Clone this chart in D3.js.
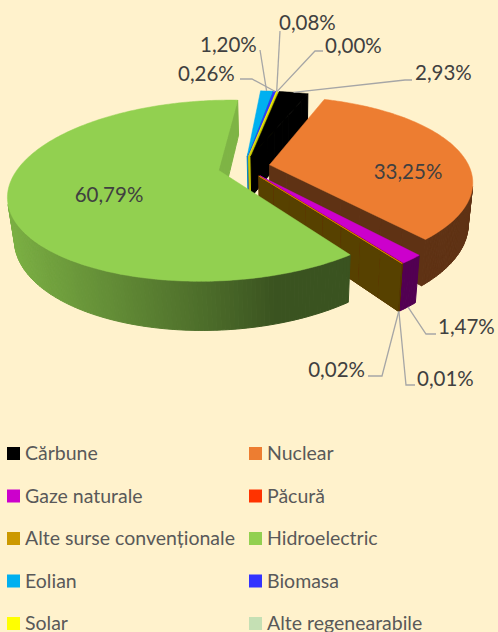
<!DOCTYPE html>
<html>
<head>
<meta charset="utf-8">
<script src="https://cdn.jsdelivr.net/npm/d3@7"></script>
<style>
  html, body { margin: 0; padding: 0; background: #FFF2CC; }
  svg { display: block; }
</style>
</head>
<body>
<svg id="chart" width="498" height="632"></svg>
<script>
// Structure of electricity production by source (% of total)
const categories = [
  "Cărbune", "Nuclear", "Gaze naturale", "Păcură", "Alte surse convenționale",
  "Hidroelectric", "Eolian", "Biomasa", "Solar", "Alte regenearabile"
];
const shares = [2.93, 33.25, 1.47, 0.01, 0.02, 60.79, 1.20, 0.26, 0.08, 0.00];
const colors = [
  "#000000", "#ED7D31", "#CC00CC", "#FF3300", "#CC9900",
  "#92D050", "#00B0F0", "#3333FF", "#FFFF00", "#C5E0B4"
];

// Where each percentage label sits, and the bends of its leader line
const labelLayout = [
  { x: 415, y: 80,  anchor: "start",  bends: [[405, 80], [412, 80]] },
  { x: 408, y: 179, anchor: "middle", bends: null },
  { x: 438, y: 334, anchor: "start",  bends: [[426, 334], [436, 334]] },
  { x: 417, y: 386, anchor: "start",  bends: [[406, 385], [415, 385]] },
  { x: 365, y: 377, anchor: "end",    bends: [[382, 376], [368, 376]] },
  { x: 109, y: 202, anchor: "middle", bends: null },
  { x: 200, y: 52,  anchor: "start",  bends: [[260, 50]] },
  { x: 178, y: 81,  anchor: "start",  bends: [[252, 79], [240, 79]] },
  { x: 279, y: 30,  anchor: "start",  bends: [[280, 31]] },
  { x: 325, y: 53,  anchor: "start",  bends: [[315, 51], [323, 51]] }
];

const W = 498, H = 632;
const svg = d3.select("#chart");
svg.append("rect").attr("width", W).attr("height", H).attr("fill", "#FFF2CC");

// 3-D pie view settings
const view = {
  cx: 244, cy: 167,          // screen position of the pie centre (top face)
  radius: 200,
  thickness: 46,
  explode: 26,
  tilt: 25 * Math.PI / 180,
  eye: 810,                  // camera distance for perspective
  eyeX: 40,                  // camera sits a little right of the pie axis
  firstAngle: 8 * Math.PI / 180
};

const sinT = Math.sin(view.tilt), cosT = Math.cos(view.tilt);
const camera = [view.eyeX, view.eye * sinT, -view.eye * cosT];

function depthOf(p) { return view.eye - p[1] * sinT + p[2] * cosT; }
function project(p) {
  const s = view.eye / depthOf(p);
  return [view.cx + view.eyeX + (p[0] - view.eyeX) * s,
          view.cy - (p[1] * cosT + p[2] * sinT) * s];
}
function shade(c, f) {
  const k = d3.rgb(c);
  return d3.rgb(k.r * f, k.g * f, k.b * f).formatHex();
}
function centroid(pts) {
  return [d3.mean(pts, p => p[0]), d3.mean(pts, p => p[1]), d3.mean(pts, p => p[2])];
}
function facing(normal, pts) {
  const c = centroid(pts);
  return normal[0] * (camera[0] - c[0]) + normal[1] * (camera[1] - c[1]) + normal[2] * (camera[2] - c[2]) > 0;
}

const pie = d3.pie().sort(null).value(d => d)
  .startAngle(view.firstAngle).endAngle(view.firstAngle + 2 * Math.PI);
const slices = pie(shares);

const walls = [], tops = [], anchors = [];
const light = [-0.958, -0.287];

slices.forEach((a, i) => {
  const mid = (a.startAngle + a.endAngle) / 2;
  const ox = view.explode * Math.sin(mid), oz = view.explode * Math.cos(mid);
  const rim = (t, y, r = view.radius) => [ox + r * Math.sin(t), y, oz + r * Math.cos(t)];
  const h = -view.thickness;

  // label anchor: top rim for slices at the back, bottom rim for those at the front
  anchors.push(project(rim(mid, Math.cos(mid) < 0 ? h : 0)));
  if (a.value <= 0) return;

  const span = a.endAngle - a.startAngle;
  const n = Math.max(2, Math.ceil(span / (Math.PI / 180)) + 1);
  const ts = d3.range(n).map(k => a.startAngle + span * k / (n - 1));
  const apex = [ox, 0, oz], apexB = [ox, h, oz];

  // top face
  tops.push({ pts: [apex, ...ts.map(t => rim(t, 0))], fill: colors[i] });

  // outer curved wall
  for (let k = 0; k < n - 1; k++) {
    const t0 = ts[k], t1 = ts[k + 1], tm = (t0 + t1) / 2;
    const pts = [rim(t0, 0), rim(t1, 0), rim(t1, h), rim(t0, h)];
    const nrm = [Math.sin(tm), 0, Math.cos(tm)];
    if (!facing(nrm, pts)) continue;
    const f = 0.4 + 0.45 * Math.max(0, nrm[0] * light[0] + nrm[2] * light[1]);
    walls.push({ pts, fill: shade(colors[i], f) });
  }

  // radial walls, cut into strips for cleaner depth ordering
  [[a.startAngle, -1], [a.endAngle, 1]].forEach(([t, sgn]) => {
    const nrm = [sgn * Math.cos(t), 0, -sgn * Math.sin(t)];
    const whole = [apex, rim(t, 0), rim(t, h), apexB];
    if (!facing(nrm, whole)) return;
    const f = Math.max(0.4, Math.min(1, 0.4 + 0.5 * (1 + 1.6 * nrm[2])));
    const fill = shade(colors[i], f);
    const parts = 8;
    for (let k = 0; k < parts; k++) {
      const r0 = view.radius * k / parts, r1 = view.radius * (k + 1) / parts;
      walls.push({ pts: [rim(t, 0, r0), rim(t, 0, r1), rim(t, h, r1), rim(t, h, r0)], fill });
    }
  });
});

const depthKey = f => depthOf(centroid(f.pts));
walls.sort((p, q) => depthKey(q) - depthKey(p));

const poly = d3.line();
const g = svg.append("g");
g.selectAll("path.wall").data(walls).join("path")
  .attr("class", "wall")
  .attr("d", d => poly(d.pts.map(project)) + "Z")
  .attr("fill", d => d.fill)
  .attr("stroke", d => d.fill)
  .attr("stroke-width", 1)
  .attr("stroke-linejoin", "round");
g.selectAll("path.top").data(tops).join("path")
  .attr("class", "top")
  .attr("d", d => poly(d.pts.map(project)) + "Z")
  .attr("fill", d => d.fill)
  .attr("stroke", d => d.fill)
  .attr("stroke-width", 0.5)
  .attr("stroke-linejoin", "round");

// data labels
const fmt = v => d3.format(".2f")(v).replace(".", ",") + "%";
const lab = svg.append("g");
labelLayout.forEach((L, i) => {
  if (L.bends) {
    lab.append("path")
      .attr("d", d3.line()([anchors[i], ...L.bends]))
      .attr("fill", "none")
      .attr("stroke", "#A6A6A6")
      .attr("stroke-width", 1.3);
  }
  lab.append("text")
    .attr("x", L.x).attr("y", L.y)
    .attr("text-anchor", L.anchor)
    .attr("font-family", "Lato, 'Open Sans', sans-serif")
    .attr("font-size", 20.5)
    .attr("fill", "#404040")
    .text(fmt(shares[i]));
});

// legend, two columns
const col = d3.scalePoint().domain([0, 1]).range([7, 249]);
const row = d3.scaleLinear().domain([0, 4]).range([447, 617]);
const leg = svg.append("g");
categories.forEach((c, i) => {
  const x = col(i % 2), y = row(Math.floor(i / 2));
  leg.append("rect").attr("x", x).attr("y", y).attr("width", 13).attr("height", 13).attr("fill", colors[i]);
  leg.append("text")
    .attr("x", x + 18).attr("y", y + 13)
    .attr("font-family", "Lato, 'Open Sans', sans-serif")
    .attr("font-size", 19.5)
    .attr("fill", "#595959")
    .text(c);
});
</script>
</body>
</html>
